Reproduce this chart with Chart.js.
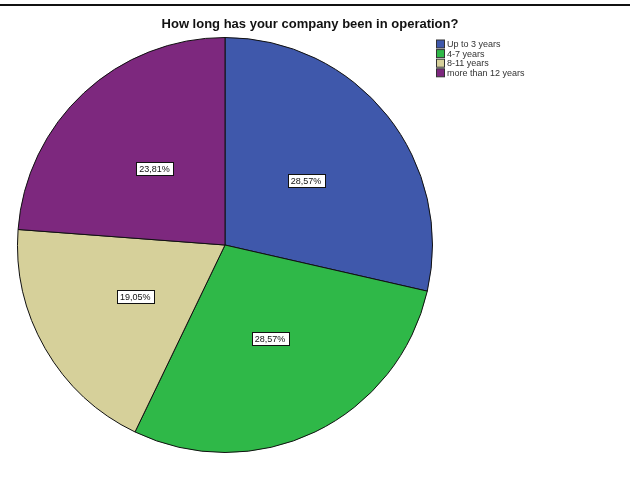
<!DOCTYPE html>
<html>
<head>
<meta charset="utf-8">
<script src="https://cdn.jsdelivr.net/npm/chart.js@4"></script>
<style>
  html, body { margin: 0; padding: 0; background: #fff; }
  #wrap { width: 630px; height: 487px; position: relative; }
</style>
</head>
<body>
<div id="wrap"><canvas id="pie" width="630" height="487"></canvas></div>
<script>
// company age categories and their shares (%)
const labels = ["Up to 3 years", "4-7 years", "8-11 years", "more than 12 years"];
const shares = [28.57, 28.57, 19.05, 23.81];
const colors = ["#3f58ab", "#2fb848", "#d6d09a", "#7d287e"];
const title = "How long has your company been in operation?";

// title, rule line and legend drawn onto the canvas
const decorations = {
  id: "decorations",
  beforeDraw(chart) {
    const c = chart.ctx;
    c.save();
    c.fillStyle = "#fff";
    c.fillRect(0, 0, chart.width, chart.height);
    c.strokeStyle = "#111";
    c.lineWidth = 2;
    c.beginPath();
    c.moveTo(0, 5);
    c.lineTo(chart.width, 5);
    c.stroke();
    c.restore();
  },
  afterDraw(chart) {
    const c = chart.ctx;
    c.save();
    c.fillStyle = "#111";
    c.font = "bold 13px 'Liberation Sans', Arial, sans-serif";
    c.textAlign = "center";
    c.textBaseline = "middle";
    c.fillText(title, 310, 24);

    // legend
    c.font = "9px 'Liberation Sans', Arial, sans-serif";
    c.textAlign = "left";
    labels.forEach((lab, i) => {
      const y = 44 + i * 9.6;
      c.fillStyle = colors[i];
      c.fillRect(436.5, y - 4, 8, 8);
      c.strokeStyle = "#333";
      c.lineWidth = 1;
      c.strokeRect(436.5, y - 4, 8, 8);
      c.fillStyle = "#333";
      c.fillText(lab, 447, y + 0.5);
    });

    // percentage boxes inside the slices
    const meta = chart.getDatasetMeta(0);
    c.font = "9px 'Liberation Sans', Arial, sans-serif";
    c.textAlign = "center";
    meta.data.forEach((arc, i) => {
      const p = arc.getProps(["x", "y", "startAngle", "endAngle", "outerRadius"]);
      const mid = (p.startAngle + p.endAngle) / 2;
      const r = p.outerRadius * 0.5;
      const x = p.x + Math.cos(mid) * r;
      const y = p.y + Math.sin(mid) * r;
      const txt = shares[i].toFixed(2).replace(".", ",") + "%";
      const w = c.measureText(txt).width + 6;
      const h = 13;
      c.fillStyle = "#fff";
      c.fillRect(Math.round(x - w / 2) + 0.5, Math.round(y - h / 2) + 0.5, Math.round(w), h);
      c.strokeStyle = "#111";
      c.lineWidth = 1;
      c.strokeRect(Math.round(x - w / 2) + 0.5, Math.round(y - h / 2) + 0.5, Math.round(w), h);
      c.fillStyle = "#111";
      c.fillText(txt, x, y + 1);
    });
    c.restore();
  }
};

new Chart(document.getElementById("pie"), {
  type: "pie",
  data: {
    labels: labels,
    datasets: [{
      data: shares,
      backgroundColor: colors,
      borderColor: "#111",
      borderWidth: 1,
      hoverOffset: 0
    }]
  },
  options: {
    responsive: false,
    animation: false,
    devicePixelRatio: 1,
    layout: { padding: { left: 17, top: 37, right: 197, bottom: 34 } },
    plugins: {
      legend: { display: false },
      title: { display: false },
      tooltip: { enabled: false }
    }
  },
  plugins: [decorations]
});
</script>
</body>
</html>
